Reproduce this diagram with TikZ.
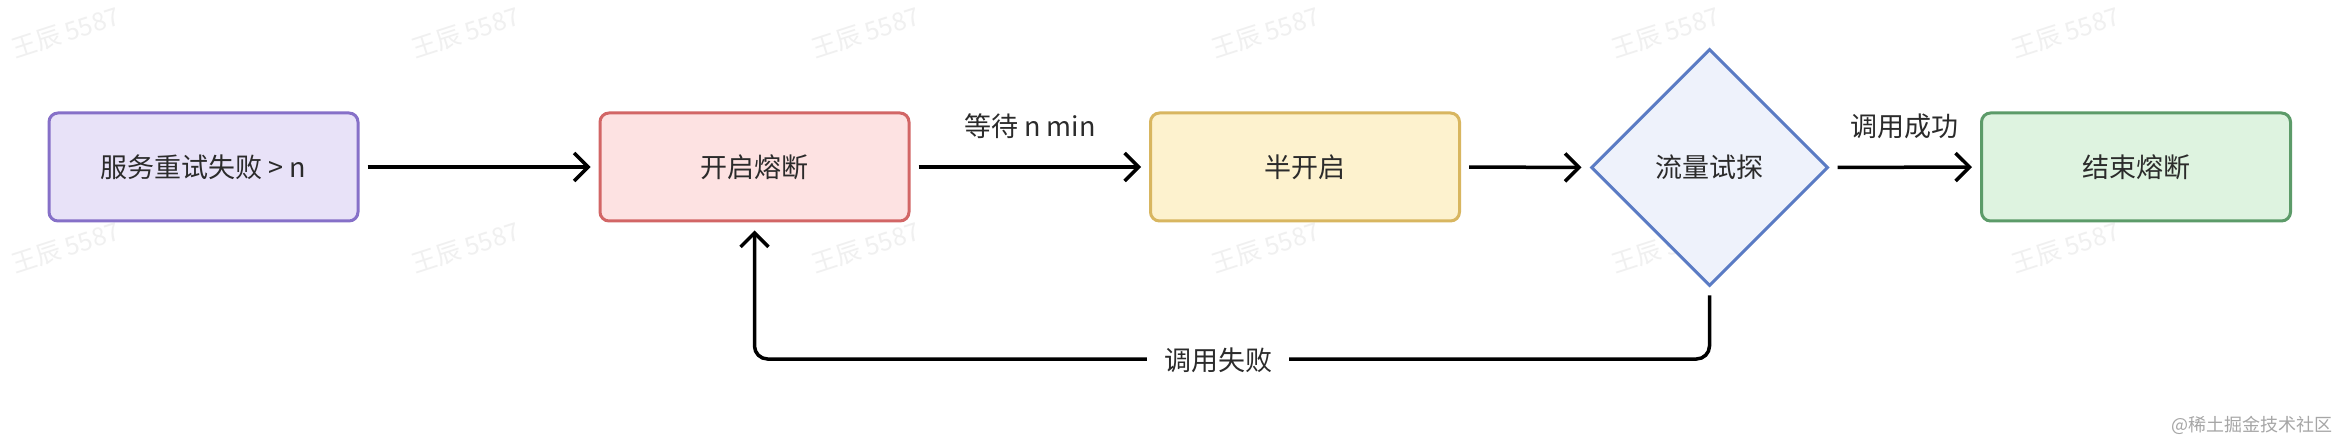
\documentclass[tikz,border=0pt]{standalone}
\usepackage{fontspec}
\setmainfont{Noto Sans CJK SC}
\usetikzlibrary{arrows.meta,shapes.geometric}
\definecolor{pFill}{HTML}{E8E2F8}
\definecolor{pLine}{HTML}{8670C8}
\definecolor{rFill}{HTML}{FDE2E2}
\definecolor{rLine}{HTML}{D26666}
\definecolor{yFill}{HTML}{FDF2CE}
\definecolor{yLine}{HTML}{D8B660}
\definecolor{bFill}{HTML}{EEF2FB}
\definecolor{bLine}{HTML}{5A7BC4}
\definecolor{gFill}{HTML}{DEF3E0}
\definecolor{gLine}{HTML}{5C9B69}
\definecolor{txt}{HTML}{2B2B2B}
\definecolor{wmc}{HTML}{F0F0F0}
\definecolor{sig}{HTML}{A6A6A6}
\begin{document}
\begin{tikzpicture}[x=0.5pt,y=-0.5pt,
  lbl/.style={text=txt, font=\fontsize{13.5pt}{16pt}\selectfont, inner sep=0pt},
  box/.style={lbl, draw, rounded corners=4.5pt, line width=1.5pt,
    minimum width=154.5pt, minimum height=54pt},
  dia/.style={lbl, draw, diamond, aspect=1, line width=1.5pt,
    minimum width=118.5pt, minimum height=118.5pt},
  conn/.style={line width=1.75pt, -{Straight Barb[length=7pt,width=14pt,line width=1.75pt]},
    shorten <=4pt, shorten >=4pt},
  wm/.style={text=wmc, font=\fontsize{12.5pt}{14pt}\selectfont, rotate=18, inner sep=0pt}]
\useasboundingbox[fill=white] (0,0) rectangle (2340,438);
% watermarks
\foreach \wx in {66,466,866,1266,1666,2066}{
  \foreach \wy in {33,248}{
    \node[wm] at (\wx,\wy) {王辰 5587};
  }
}
% nodes
\node[box, fill=pFill, draw=pLine] (b1) at (203.5,167) {服务重试失败 > n};
\node[box, fill=rFill, draw=rLine] (b2) at (754.5,167) {开启熔断};
\node[box, fill=yFill, draw=yLine] (b3) at (1305,167) {半开启};
\node[dia, fill=bFill, draw=bLine] (d) at (1709.5,167.5) {流量试探};
\node[box, fill=gFill, draw=gLine] (b5) at (2136,167) {结束熔断};
% connectors
\draw[conn] (b1.east) -- (b2.west);
\draw[conn] (b2.east) -- node[lbl, midway, yshift=20.5pt] (l1) {等待 n min} (b3.west);
\draw[conn] (b3.east) -- (d.west);
\draw[conn] (d.east) -- node[lbl, midway, yshift=20.5pt] (l2) {调用成功} (b5.west);
\coordinate (fb) at (0,359);
\draw[conn, rounded corners=6.5pt] (d.south) -- (d.south |- fb) -- (b2.south |- fb) -- (b2.south);
\node[lbl, fill=white, inner xsep=8.5pt, inner ysep=2pt] (l3) at (1218,360) {调用失败};
% signature
\node[text=sig, font=\fontsize{9pt}{11pt}\selectfont, inner sep=0pt, anchor=east] (sg) at (2333,425) {@稀土掘金技术社区};
\end{tikzpicture}
\end{document}
